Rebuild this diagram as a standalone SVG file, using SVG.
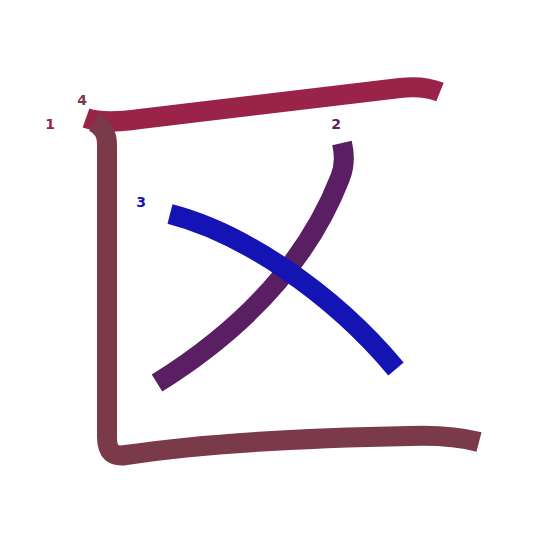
<svg xmlns="http://www.w3.org/2000/svg" width="545" height="545" viewBox="0 0 545 545">
<style>
.s{fill:none;stroke-width:20;stroke-linecap:butt;stroke-linejoin:round}
.n{font-family:"DejaVu Sans",sans-serif;font-size:14px;font-weight:bold;text-anchor:middle}
</style>
<rect width="545" height="545" fill="#ffffff"/>
<g id="connectors">
<g id="stroke1"><path class="s" stroke="#9a2449" d="M 86,118 C 100,123 118,122 140,119 L 400,88 C 416,86 430,88 440,92"/></g>
<g id="stroke2"><path class="s" stroke="#5a1e62" d="M 342,143 C 345,156 345,166 340,178 C 310,255 250,325 157,383"/></g>
<g id="stroke3"><path class="s" stroke="#1414b4" d="M 170,214 C 240,232 330,290 396,369"/></g>
<g id="stroke4"><path class="s" stroke="#7a3a4a" d="M 94,122 C 103,127 107,133 107,145 L 107,437 C 107,452 113,457 126,455 C 200,444 300,438 410,436 C 440,435 460,437 479,442"/></g>
</g>
<g id="labels">
<text class="n" x="50" y="129" fill="#9a2449">1</text>
<text class="n" x="336" y="129" fill="#5a1e62">2</text>
<text class="n" x="141" y="207" fill="#1414b4">3</text>
<text class="n" x="82" y="105" fill="#7a3a4a">4</text>
</g>
</svg>
